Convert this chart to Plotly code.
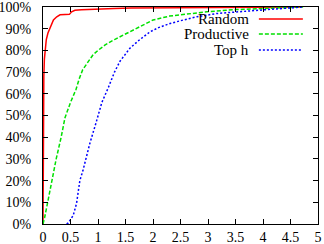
import plotly.graph_objects as go

random_x = [0, 0.004, 0.008, 0.015, 0.025, 0.04, 0.06, 0.09, 0.12, 0.16, 0.19, 0.25, 0.31, 0.4, 0.48, 0.52, 0.58, 0.7, 0.85, 1.0, 1.3, 1.6, 2.0, 2.5, 3.0, 3.5, 4.0, 4.7]
random_y = [0, 30, 55, 68, 76, 81, 85, 88, 90, 92.5, 94, 95.5, 96.4, 96.5, 96.6, 97.8, 98.5, 98.7, 98.9, 99.1, 99.3, 99.5, 99.6, 99.7, 99.8, 99.9, 100, 100]

productive_x = [0, 0.03, 0.085, 0.16, 0.24, 0.33, 0.4, 0.5, 0.6, 0.66, 0.72, 0.8, 0.91, 1.0, 1.13, 1.3, 1.46, 1.6, 1.76, 2.0, 2.3, 2.55, 2.98, 3.5, 4.0, 4.5, 4.73]
productive_y = [0, 3, 10, 20, 30, 40, 49, 56, 62, 67, 71, 74, 78, 80, 82.5, 85, 87, 89, 91, 94, 95.8, 96.5, 97.8, 98.8, 99.4, 99.8, 100]

toph_x = [0.43, 0.46, 0.5, 0.55, 0.61, 0.67, 0.73, 0.85, 0.98, 1.07, 1.19, 1.3, 1.4, 1.58, 1.76, 1.95, 2.1, 2.31, 2.55, 2.8, 3.16, 3.6, 4.07, 4.4, 4.73]
toph_y = [0, 0.5, 2, 4, 9.5, 20, 25, 37, 48, 56, 63, 70, 75, 81, 85, 88.6, 90.5, 92.4, 94, 95.5, 97, 98, 98.8, 99.4, 100]

x_ticks = [0, 0.5, 1, 1.5, 2, 2.5, 3, 3.5, 4, 4.5, 5]
x_labels = ["0", "0.5", "1", "1.5", "2", "2.5", "3", "3.5", "4", "4.5", "5"]
y_ticks = [0, 10, 20, 30, 40, 50, 60, 70, 80, 90, 100]
y_labels = [f"{v}%" for v in y_ticks]

series = [
    ("Random", random_x, random_y, "#ff0000", "solid"),
    ("Productive", productive_x, productive_y, "#00e000", "4px,2px"),
    ("Top h", toph_x, toph_y, "#0000ff", "2px,2px"),
]

FONT = "'Liberation Serif', 'Times New Roman', serif"
fig = go.Figure()
for name, xs, ys, col, dash in series:
    fig.add_trace(go.Scatter(x=xs, y=ys, mode="lines", name=name,
                             line=dict(color=col, width=1.5, dash=dash),
                             showlegend=False, hoverinfo="skip"))

# manual gnuplot-style legend (text left, sample right)
leg_y = [0.945, 0.876, 0.802]
for (name, xs, ys, col, dash), ly in zip(series, leg_y):
    fig.add_annotation(x=0.755, y=ly, xref="paper", yref="paper", text=name,
                       showarrow=False, xanchor="right", yanchor="middle",
                       font=dict(family=FONT, size=15, color="black"))
    fig.add_shape(type="line", xref="paper", yref="paper", x0=0.785, x1=0.945,
                  y0=ly, y1=ly, line=dict(color=col, width=1.5, dash=dash))

fig.update_layout(
    width=324, height=244,
    margin=dict(l=43, r=6, t=7, b=20),
    paper_bgcolor="white", plot_bgcolor="white",
    font=dict(family=FONT, size=14, color="black"),
)
fig.update_xaxes(range=[0, 5], tickvals=x_ticks, ticktext=x_labels,
                 ticks="inside", ticklen=5, tickcolor="black",
                 showline=True, linecolor="black", linewidth=1, mirror="ticks",
                 showgrid=False, zeroline=False, ticklabelstandoff=0,
                 automargin=False, ticklabeloverflow="allow")
fig.update_yaxes(range=[0, 100], tickvals=y_ticks, ticktext=y_labels,
                 ticks="inside", ticklen=5, tickcolor="black",
                 showline=True, linecolor="black", linewidth=1, mirror="ticks",
                 showgrid=False, zeroline=False, ticklabelstandoff=8,
                 automargin=False, ticklabeloverflow="allow")

fig.write_html("out.html", config={"displayModeBar": False},
               post_script="document.body.style.margin='0';document.body.style.padding='0';")
